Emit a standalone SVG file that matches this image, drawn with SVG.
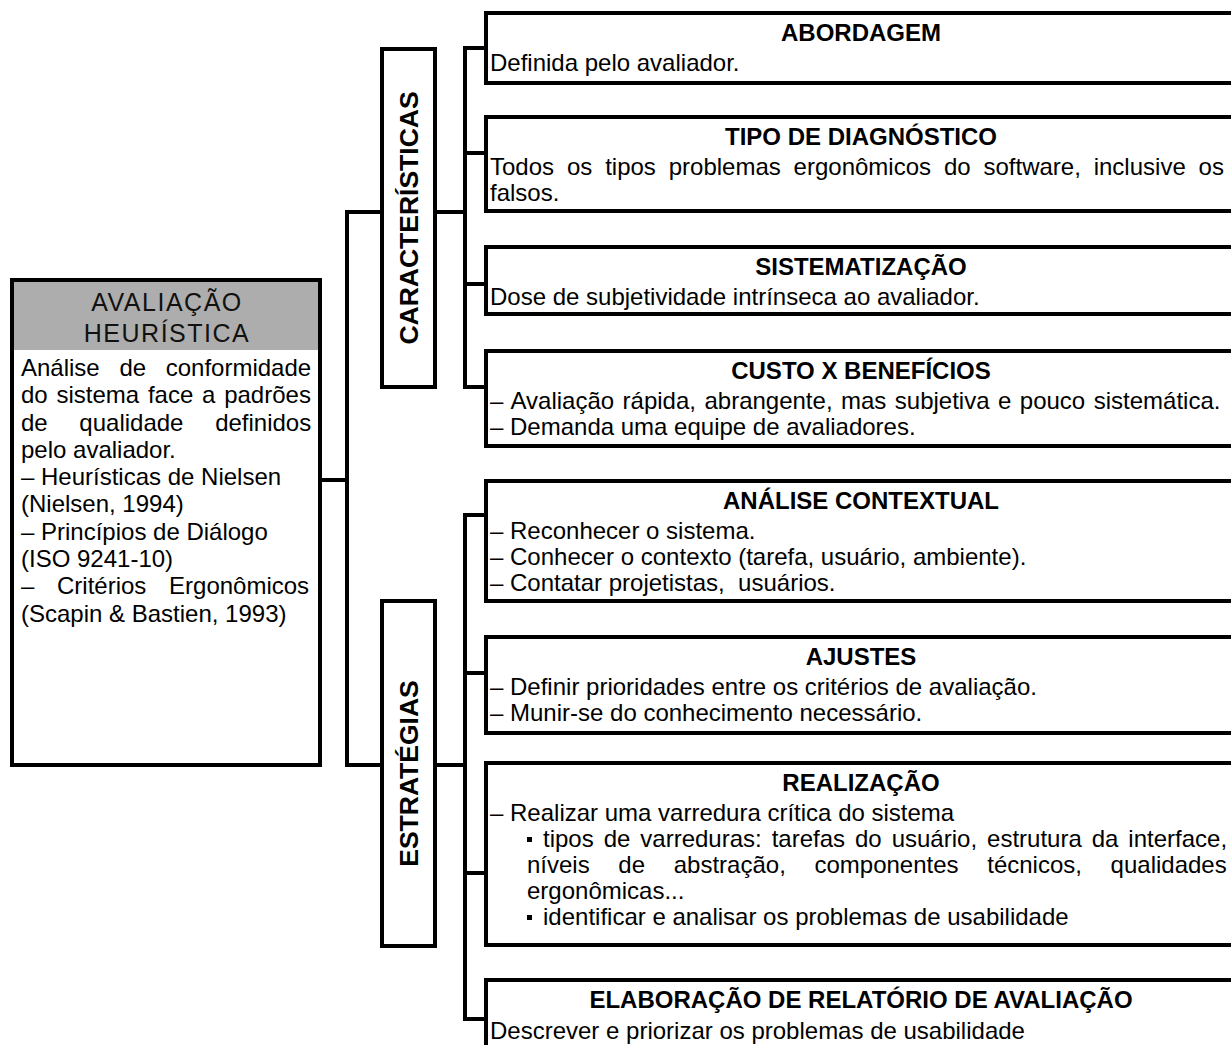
<svg xmlns="http://www.w3.org/2000/svg" width="1231" height="1045" viewBox="0 0 1231 1045">
  <style>
    .box{fill:#fff;stroke:#000;stroke-width:4}
    .wire{fill:none;stroke:#000;stroke-width:4;stroke-linejoin:miter;stroke-linecap:butt}
    text{font-family:"Liberation Sans",Arial,sans-serif;fill:#000}
    .t{font-size:24px;font-weight:bold;text-anchor:middle}
    .b{font-size:24px}
    .v{font-size:26.5px;font-weight:bold;text-anchor:middle}
    .h{font-size:25px;letter-spacing:1.5px;text-anchor:middle;fill:#111}
    .pre{white-space:pre}
  </style>
  <rect width="1231" height="1045" fill="#fff"/>

  <!-- connectors -->
  <g id="connectors">
    <path class="wire" d="M322,480 H347"/>
    <path class="wire" d="M380,212 H347 V765 H380"/>
    <path class="wire" d="M437,212 H465"/>
    <path class="wire" d="M486,48 H465 V387 H486 M465,153 H486 M465,284 H486"/>
    <path class="wire" d="M437,765 H465"/>
    <path class="wire" d="M486,515 H465 V1019 H486 M465,673 H486 M465,873 H486"/>
  </g>

  <!-- root node -->
  <g id="avaliacao-heuristica">
    <rect class="box" x="12" y="280" width="308" height="485"/>
    <rect x="14" y="282" width="304" height="68" fill="#adadad"/>
    <text class="h" x="167" y="311">AVALIAÇÃO</text>
    <text class="h" x="167" y="342">HEURÍSTICA</text>
    <text class="b" x="21" y="376" word-spacing="13">Análise de conformidade</text>
    <text class="b" x="21" y="403" word-spacing="2.1">do sistema face a padrões</text>
    <text class="b" x="21" y="431" word-spacing="25">de qualidade definidos</text>
    <text class="b" x="21" y="458">pelo avaliador.</text>
    <text class="b" x="21" y="485">– Heurísticas de Nielsen</text>
    <text class="b" x="21" y="512">(Nielsen, 1994)</text>
    <text class="b" x="21" y="540">– Princípios de Diálogo</text>
    <text class="b" x="21" y="567">(ISO 9241-10)</text>
    <text class="b" x="21" y="594" word-spacing="16">– Critérios Ergonômicos</text>
    <text class="b" x="21" y="622">(Scapin &amp; Bastien, 1993)</text>
  </g>

  <!-- group labels -->
  <g id="caracteristicas">
    <rect class="box" x="382" y="49" width="53" height="338"/>
    <text class="v" transform="translate(418,218) rotate(-90)">CARACTERÍSTICAS</text>
  </g>
  <g id="estrategias">
    <rect class="box" x="382" y="601" width="53" height="345"/>
    <text class="v" transform="translate(418,773.5) rotate(-90)">ESTRATÉGIAS</text>
  </g>

  <!-- characteristics -->
  <g id="abordagem">
    <rect class="box" x="486" y="13" width="760" height="70"/>
    <text class="t" x="861" y="41">ABORDAGEM</text>
    <text class="b" x="490" y="71">Definida pelo avaliador.</text>
  </g>
  <g id="tipo-de-diagnostico">
    <rect class="box" x="486" y="117" width="760" height="94"/>
    <text class="t" x="861" y="145">TIPO DE DIAGNÓSTICO</text>
    <text class="b" x="490" y="175" word-spacing="6.2">Todos os tipos problemas ergonômicos do software, inclusive os</text>
    <text class="b" x="490" y="201">falsos.</text>
  </g>
  <g id="sistematizacao">
    <rect class="box" x="486" y="247" width="760" height="67"/>
    <text class="t" x="861" y="275">SISTEMATIZAÇÃO</text>
    <text class="b" x="490" y="305">Dose de subjetividade intrínseca ao avaliador.</text>
  </g>
  <g id="custo-x-beneficios">
    <rect class="box" x="486" y="351" width="760" height="95"/>
    <text class="t" x="861" y="379">CUSTO X BENEFÍCIOS</text>
    <text class="b" x="490" y="409" word-spacing="1.8">– Avaliação rápida, abrangente, mas subjetiva e pouco sistemática.</text>
    <text class="b" x="490" y="435">– Demanda uma equipe de avaliadores.</text>
  </g>

  <!-- strategies -->
  <g id="analise-contextual">
    <rect class="box" x="486" y="481" width="760" height="120"/>
    <text class="t" x="861" y="509">ANÁLISE CONTEXTUAL</text>
    <text class="b" x="490" y="539">– Reconhecer o sistema.</text>
    <text class="b" x="490" y="565">– Conhecer o contexto (tarefa, usuário, ambiente).</text>
    <text class="b pre" x="490" y="591">– Contatar projetistas,  usuários.</text>
  </g>
  <g id="ajustes">
    <rect class="box" x="486" y="637" width="760" height="96"/>
    <text class="t" x="861" y="665">AJUSTES</text>
    <text class="b" x="490" y="695">– Definir prioridades entre os critérios de avaliação.</text>
    <text class="b" x="490" y="721">– Munir-se do conhecimento necessário.</text>
  </g>
  <g id="realizacao">
    <rect class="box" x="486" y="763" width="760" height="182"/>
    <text class="t" x="861" y="791">REALIZAÇÃO</text>
    <text class="b" x="490" y="821">– Realizar uma varredura crítica do sistema</text>
    <rect x="527" y="837" width="5" height="5"/>
    <text class="b" x="543" y="847" word-spacing="3.3">tipos de varreduras: tarefas do usuário, estrutura da interface,</text>
    <text class="b" x="527" y="873" word-spacing="22">níveis de abstração, componentes técnicos, qualidades</text>
    <text class="b" x="527" y="899">ergonômicas...</text>
    <rect x="527" y="915" width="5" height="5"/>
    <text class="b" x="543" y="925">identificar e analisar os problemas de usabilidade</text>
  </g>
  <g id="elaboracao-de-relatorio">
    <rect class="box" x="486" y="980" width="760" height="90"/>
    <text class="t" x="861" y="1008">ELABORAÇÃO DE RELATÓRIO DE AVALIAÇÃO</text>
    <text class="b" x="490" y="1039">Descrever e priorizar os problemas de usabilidade</text>
  </g>
</svg>
